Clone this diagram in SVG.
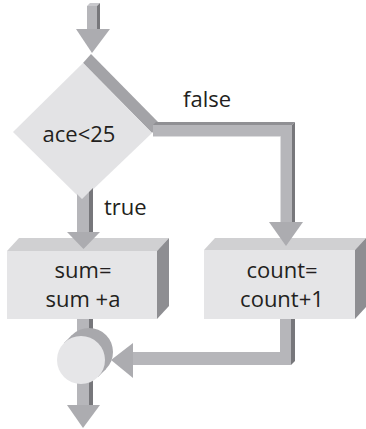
<svg xmlns="http://www.w3.org/2000/svg" width="366" height="429" viewBox="0 0 366 429">
<style>
.face{fill:#e5e5e7}
.top{fill:#d0d0d2}
.side{fill:#8e8e92}
.bar{fill:#b6b6ba}
.barside{fill:#77777b}
.bartop{fill:#909094}
.head{fill:#acacb0}
.hl{stroke:#dcdcde;stroke-width:1;fill:none}
text{font-family:"Open Sans","Noto Sans","DejaVu Sans",sans-serif;font-size:22px;fill:#231f20}
</style>
<rect width="366" height="429" fill="#ffffff"/>
<g id="decision">
  <polygon points="83,63 91,54 160,124 152,133" fill="#a3a3a7"/>
  <polygon points="83,63 152,133 82,200 13,132" fill="#e3e3e5"/>
  <text x="79" y="142" text-anchor="middle">ace&lt;25</text>
</g>
<g id="sum">
  <polygon class="top" points="7,251 19,238 169,238 157,251"/>
  <polygon class="side" points="157,251 169,238 169,306 157,319"/>
  <rect class="face" x="7" y="251" width="150" height="68"/>
  <text x="83" y="278" text-anchor="middle">sum=</text>
  <text x="83" y="307" text-anchor="middle">sum +a</text>
</g>
<g id="count">
  <polygon class="top" points="204,250 215,238 366,238 355,250"/>
  <polygon class="side" points="355,250 366,238 366,307 355,319"/>
  <rect class="face" x="204" y="250" width="151" height="69"/>
  <text x="282" y="278" text-anchor="middle">count=</text>
  <text x="282" y="307" text-anchor="middle">count+1</text>
</g>
<g id="connectors">
  <!-- entry arrow -->
  <polygon points="87,6 90,3 100,3 97,6" fill="#c8c8cc"/>
  <rect class="bar" x="87" y="6" width="10" height="24"/>
  <polygon class="barside" points="97,6 100,3 100,30 97,30"/>
  <polygon class="head" points="76,29 110,29 92,53"/>
  <!-- true branch -->
  <polygon class="bar" points="77,194 82,199 89,192 89,233 77,233"/>
  <polygon class="barside" points="89,192 93,188 93,233 89,233"/>
  <polygon class="head" points="67,232 100,232 83.5,249"/>
  <!-- false branch -->
  <polygon class="bartop" points="153,125 156,122 295,122 292,125"/>
  <rect class="bar" x="153" y="125" width="139" height="12"/>
  <rect class="bar" x="280" y="125" width="12" height="98"/>
  <polygon class="barside" points="292,125 295,122 295,223 292,223"/>
  <polyline class="hl" points="153,136.5 280.5,136.5 280.5,222"/>
  <polygon class="head" points="269,222 303,222 286,246"/>
  <!-- sum to merge -->
  <rect class="bar" x="77" y="319" width="12" height="16"/>
  <rect class="barside" x="89" y="319" width="4" height="12"/>
  <!-- count back to merge -->
  <rect class="bar" x="280" y="319" width="11" height="46"/>
  <polygon class="barside" points="291,319 295,319 295,361 291,365"/>
  <rect class="bar" x="133" y="352" width="158" height="13"/>
  <polygon class="head" points="133,343 133,378 111,360"/>
  <!-- exit arrow -->
  <rect class="bar" x="77" y="375" width="12" height="31"/>
  <rect class="barside" x="89" y="375" width="4" height="31"/>
  <polygon class="head" points="67,405 100,405 83,428"/>
</g>
<g id="merge">
  <circle cx="89" cy="352" r="24" fill="#a8a8ac"/>
  <polygon points="64,343 72,335 106,369 98,377" fill="#a8a8ac"/>
  <circle cx="81" cy="360" r="24" fill="#e6e6e8"/>
</g>
<text x="183" y="107">false</text>
<text x="104" y="215">true</text>
</svg>
